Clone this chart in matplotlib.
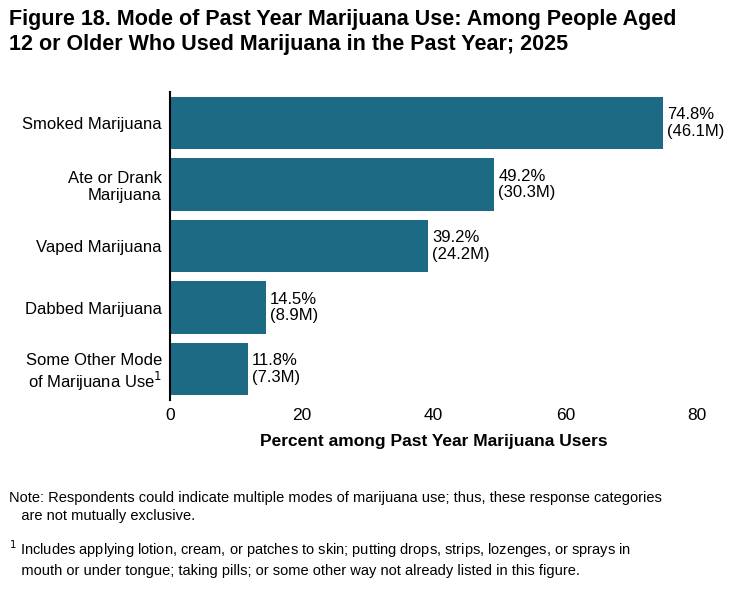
import matplotlib.pyplot as plt

plt.rcParams['font.family'] = ['Liberation Sans', 'DejaVu Sans']

categories = ['Smoked Marijuana', 'Ate or Drank\nMarijuana', 'Vaped Marijuana',
              'Dabbed Marijuana', 'Some Other Mode\nof Marijuana Use$^1$']
percents = [74.8, 49.2, 39.2, 14.5, 11.8]
millions = ['46.1M', '30.3M', '24.2M', '8.9M', '7.3M']

fig = plt.figure(figsize=(7.4, 5.95), dpi=100)
ax = fig.add_axes([0.23, 0.328, 0.712, 0.517])

y = list(range(len(categories)))
ax.barh(y, percents, height=0.85, color='#1d6a85')
for yi, p, m in zip(y, percents, millions):
    ax.text(p + 0.6, yi, f'{p}%\n({m})', va='center', ha='left', fontsize=12, linespacing=1.1)

ax.set_yticks(y)
ax.set_yticklabels(categories, fontsize=12, linespacing=1.15)
ax.set_ylim(4.5, -0.5)
ax.set_xlim(0, 80)
ax.set_xticks([0, 20, 40, 60, 80])
ax.tick_params(axis='x', labelsize=12.5, length=0, pad=6)
ax.tick_params(axis='y', length=0, pad=6)
for s in ['top', 'right', 'bottom']:
    ax.spines[s].set_visible(False)
ax.spines['left'].set_linewidth(1.5)
ax.set_xlabel('Percent among Past Year Marijuana Users', fontsize=12.5, fontweight='bold', labelpad=8)

fig.text(0.012, 0.985, 'Figure 18. Mode of Past Year Marijuana Use: Among People Aged\n'
         '12 or Older Who Used Marijuana in the Past Year; 2025',
         fontsize=15.5, fontweight='bold', va='top', ha='left', linespacing=1.25)

fig.text(0.012, 0.175, 'Note: Respondents could indicate multiple modes of marijuana use; thus, these response categories\n'
         '   are not mutually exclusive.', fontsize=10.5, va='top', ha='left', linespacing=1.35)
fig.text(0.012, 0.095, '$^1$ Includes applying lotion, cream, or patches to skin; putting drops, strips, lozenges, or sprays in\n'
         '   mouth or under tongue; taking pills; or some other way not already listed in this figure.',
         fontsize=10.5, va='top', ha='left', linespacing=1.35)

fig.savefig('out.png', dpi=100)
